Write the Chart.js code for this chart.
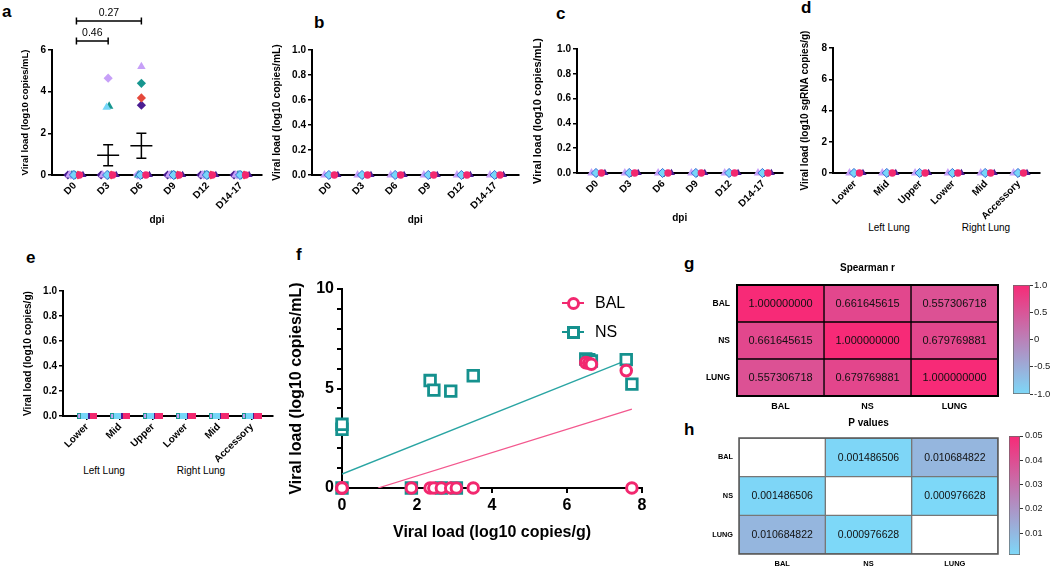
<!DOCTYPE html>
<html>
<head>
<meta charset="utf-8">
<title>Viral load panels</title>
<script src="https://cdn.jsdelivr.net/npm/chart.js@4.4.1/dist/chart.umd.min.js"></script>
<style>
  html, body { margin: 0; padding: 0; background: #fff; }
  body { position: relative; width: 1050px; height: 568px; overflow: hidden; font-family: "Liberation Sans", Arial, sans-serif; color: #000; }
  .box { position: absolute; }
  .tag { position: absolute; font-size: 17px; line-height: 17px; font-weight: bold; }
  .grp { position: absolute; font-size: 10px; line-height: 12px; white-space: nowrap; transform: translateX(-50%); }
  .leg { position: absolute; font-size: 16px; line-height: 18px; white-space: nowrap; }
</style>
</head>
<body>
<div class="tag" style="left:2px;top:2.6px">a</div>
<div class="tag" style="left:314px;top:13.6px">b</div>
<div class="tag" style="left:556px;top:4.6px">c</div>
<div class="tag" style="left:801px;top:-1.4px">d</div>
<div class="tag" style="left:26px;top:248.6px">e</div>
<div class="tag" style="left:296px;top:245.6px">f</div>
<div class="tag" style="left:684px;top:254.6px">g</div>
<div class="tag" style="left:684px;top:420.6px">h</div>
<div class="grp" id="dLeft" style="left:889px;top:222px"></div>
<div class="grp" id="dRight" style="left:986px;top:222px"></div>
<div class="grp" id="eLeft" style="left:104px;top:465px"></div>
<div class="grp" id="eRight" style="left:201px;top:465px"></div>
<script>
// ---------- data ----------
const days = ['D0', 'D3', 'D6', 'D9', 'D12', 'D14-17'];
const lobes = ['Lower', 'Mid', 'Upper', 'Lower', 'Mid', 'Accessory'];
const lungGroups = ['Left Lung', 'Right Lung'];

// a: one array per animal, log10 copies/mL by day
const aPink    = [0, 0, 0, 0, 0, 0];
const aCyanDia = [0, 0, 0, 0, 0, 0];
const aLavTri  = [0, 0, 5.2, 0, 0, 0];
const aPurTri  = [0, 0, 0, 0, 0, 0];
const aTealTri = [0, 3.3, 0, 0, 0, 0];
const aCyanTri = [0, 3.25, 0, 0, 0, 0];
const aLavDia  = [0, 4.65, 0, 0, 0, 0];
const aTealDia = [0, 0, 4.4, 0, 0, 0];
const aRedDia  = [0, 0, 3.7, 0, 0, 0];
const aPurDia  = [0, 0, 3.35, 0, 0, 0];
const aMean = [0, 0.95, 1.4, 0, 0, 0];
const aSem  = [0, 0.5, 0.6, 0, 0, 0];
const aCmpFrom = [0, 0];
const aCmpTo   = [1, 2];
const aCmpP    = ['0.46', '0.27'];
const aYTicks  = [0, 2, 4, 6];

// b, c: all animals below detection
const bPink = [0, 0, 0, 0, 0, 0];
const bCyan = [0, 0, 0, 0, 0, 0];
const bLav  = [0, 0, 0, 0, 0, 0];
const bPur  = [0, 0, 0, 0, 0, 0];
const cPink = [0, 0, 0, 0, 0, 0];
const cCyan = [0, 0, 0, 0, 0, 0];
const cLav  = [0, 0, 0, 0, 0, 0];
const cPur  = [0, 0, 0, 0, 0, 0];
const unitTicks = [0, 0.2, 0.4, 0.6, 0.8, 1.0];

// d: sgRNA per lobe
const dPink = [0, 0, 0, 0, 0, 0];
const dCyan = [0, 0, 0, 0, 0, 0];
const dLav  = [0, 0, 0, 0, 0, 0];
const dPur  = [0, 0, 0, 0, 0, 0];
const dYTicks = [0, 2, 4, 6, 8];

// e: bars per lobe
const eLav  = [0, 0, 0, 0, 0, 0];
const eCyan = [0, 0, 0, 0, 0, 0];
const ePur  = [0, 0, 0, 0, 0, 0];
const ePink = [0, 0, 0, 0, 0, 0];

// f: lung load vs BAL / NS load, one entry per animal
const fSeries  = ['BAL', 'NS'];
const lungLoad = [0, 0, 0, 1.85, 2.35, 2.45, 2.65, 2.9, 3.05, 3.5, 6.5, 6.58, 6.65, 7.58, 7.73];
const balLoad  = [0, 0, 0, 0, 0, 0, 0, 0, 0, 0, 6.3, 6.27, 6.22, 5.9, 0];
const nsLoad   = [0, 2.95, 3.2, 0, 5.4, 4.92, 0, 4.87, 0, 5.64, 6.48, 6.45, 6.38, 6.45, 5.22];
const balFit   = [0.586, -0.563];   // slope, intercept
const balFitX  = [0.96, 7.73];
const nsFit    = [0.753, 0.70];
const nsFitX   = [0, 7.6];
const fXTicks  = [0, 2, 4, 6, 8];
const fYTicks  = [0, 1, 2, 3, 4, 5, 6, 7, 8, 9, 10];
const fYShown  = [0, 5, 10];

// g, h: correlation matrices
const corrLabels = ['BAL', 'NS', 'LUNG'];
const spearmanR = [
  [1, 0.661645615, 0.557306718],
  [0.661645615, 1, 0.679769881],
  [0.557306718, 0.679769881, 1]
];
const pValues = [
  [null, 0.001486506, 0.010684822],
  [0.001486506, null, 0.000976628],
  [0.010684822, 0.000976628, null]
];
const rBarTicks  = [-1, -0.5, 0, 0.5, 1];
const rBarLabels = ['-1.0', '-0.5', '0', '0.5', '1.0'];
const pBarTicks  = [0.01, 0.02, 0.03, 0.04, 0.05];
const pBarLabels = ['0.01', '0.02', '0.03', '0.04', '0.05'];
const pBarMin = 0.000976628;

// ---------- setup ----------
const FONT = "'Liberation Sans', Arial, sans-serif";
Chart.defaults.font.family = FONT;
Chart.defaults.color = '#000';
Chart.defaults.animation = false;
Chart.defaults.plugins.legend.display = false;
Chart.defaults.plugins.tooltip.enabled = false;

const PINK = '#f2286f', CYAN = '#76d6f8', LAV = '#c7a0f8', PUR = '#4b1d92', TEAL = '#16968f', RED = '#e5493b';
const LOW = [125, 216, 248], HIGH = [247, 42, 119];

function mix(t) {
  t = Math.max(0, Math.min(1, t));
  const c = LOW.map((v, i) => Math.round(v + (HIGH[i] - v) * t));
  return `rgb(${c[0]},${c[1]},${c[2]})`;
}

function rectImg(w, h, fill, stroke) {
  const c = document.createElement('canvas');
  c.width = w; c.height = h;
  const g = c.getContext('2d');
  g.fillStyle = fill;
  g.fillRect(0, 0, w, h);
  if (stroke) { g.strokeStyle = stroke; g.lineWidth = 1; g.strokeRect(0.5, 0.5, w - 1, h - 1); }
  return c;
}

// marker looks; off = sideways nudge (px) for points sitting on zero
const MK = {
  pink:    { shape: 'circle',   r: 3.7, fill: PINK, off: 4.5 },
  cyanDia: { shape: 'rectRot',  r: 4.6, fill: CYAN, line: '#3a6bd6', bw: 1, off: -1 },
  lavTri:  { shape: 'triangle', r: 4.9, fill: LAV, off: -5.5 },
  purTri:  { shape: 'triangle', r: 4.2, fill: PUR, off: 8 },
  tealTri: { shape: 'triangle', r: 4.9, fill: TEAL, off: -3, hi: 1 },
  cyanTri: { shape: 'triangle', r: 4.9, fill: CYAN, off: -2, hi: -1.5 },
  lavDia:  { shape: 'rectRot',  r: 4.6, fill: LAV, off: -4 },
  tealDia: { shape: 'rectRot',  r: 4.6, fill: TEAL, off: 0 },
  redDia:  { shape: 'rectRot',  r: 4.6, fill: RED, off: 3 },
  purDia:  { shape: 'rectRot',  r: 4.6, fill: PUR, off: -7 },
  eLav:    { img: rectImg(4, 6, LAV, '#1c9a93'), r: 4, off: -8 },
  eCyan:   { img: rectImg(7, 6, CYAN), r: 4, off: -2.5 },
  ePur:    { img: rectImg(2, 6, PUR), r: 4, off: 1.5 },
  ePink:   { img: rectImg(8, 6, PINK), r: 4, off: 6 }
};

function addBox(l, t, w, h) {
  const d = document.createElement('div');
  d.className = 'box';
  d.style.cssText = `left:${l}px;top:${t}px;width:${w}px;height:${h}px`;
  const c = document.createElement('canvas');
  d.appendChild(c);
  document.body.appendChild(d);
  return c;
}

const marks = len => ({ display: true, drawOnChartArea: false, drawTicks: true, tickLength: len, color: '#000', lineWidth: 1.5 });

function dotPanel(o) {
  const [bl, bt, bw, bh] = o.box;
  const [al, at, ar, ab] = o.area;
  const datasets = o.series.map(([vals, key]) => {
    const m = MK[key];
    return {
      data: vals.map((v, i) => ({ x: i + (v === 0 ? m.off : (m.hi || 0)) / o.step, y: v })),
      pointStyle: m.img || m.shape,
      pointRadius: m.r,
      pointBackgroundColor: m.fill || '#000',
      pointBorderColor: m.line || m.fill || '#000',
      pointBorderWidth: m.bw || 0,
      clip: false
    };
  });
  const ylh = o.yTitleSize * 1.2;
  return new Chart(addBox(bl, bt, bw, bh), {
    type: 'scatter',
    data: { datasets },
    options: {
      responsive: true,
      maintainAspectRatio: false,
      layout: { padding: { left: 0, top: at - bt, right: bl + bw - ar, bottom: 0 } },
      scales: {
        x: {
          type: 'linear',
          min: -o.pad[0],
          max: o.cats.length - 1 + o.pad[1],
          afterBuildTicks: s => { s.ticks = o.cats.map((_, i) => ({ value: i })); },
          afterFit: s => { s.height = bt + bh - ab; },
          ticks: { autoSkip: false, minRotation: 45, maxRotation: 45, padding: 1, color: '#000',
                   font: { size: 10, weight: 'bold' }, callback: (v, i) => o.cats[i] },
          grid: marks(4),
          border: { display: true, color: '#000', width: 2 },
          title: o.xTitle
            ? { display: true, text: o.xTitle, color: '#000', font: { size: 10, weight: 'bold' },
                padding: { top: 0, bottom: bt + bh - o.xTitleY - 6 } }
            : { display: false }
        },
        y: {
          min: 0,
          max: o.yMax,
          afterBuildTicks: s => { s.ticks = o.yTicks.map(v => ({ value: v })); },
          afterFit: s => { s.width = al - bl; },
          ticks: { autoSkip: false, padding: 2, color: '#000', font: { size: 10, weight: 'bold' },
                   callback: (v, i) => o.yFmt(o.yTicks[i]) },
          grid: marks(4),
          border: { display: true, color: '#000', width: 2 },
          title: { display: true, text: o.yTitle, color: '#000', font: { size: o.yTitleSize, weight: 'bold' },
                   padding: { top: o.yTitleX - bl - ylh / 2, bottom: 0 } }
        }
      }
    },
    plugins: o.plugins || []
  });
}

// mean +/- SEM and comparison brackets for panel a
const aExtras = {
  id: 'aExtras',
  beforeDatasetsDraw(chart) {
    const { ctx, scales: { x, y } } = chart;
    ctx.save();
    ctx.strokeStyle = '#000';
    ctx.lineWidth = 1.5;
    aMean.forEach((m, i) => {
      if (!m) return;
      const px = x.getPixelForValue(i);
      const pm = y.getPixelForValue(m);
      const hi = y.getPixelForValue(m + aSem[i]);
      const lo = y.getPixelForValue(m - aSem[i]);
      ctx.beginPath();
      ctx.moveTo(px - 11, pm); ctx.lineTo(px + 11, pm);
      ctx.moveTo(px, hi); ctx.lineTo(px, lo);
      ctx.moveTo(px - 5, hi); ctx.lineTo(px + 5, hi);
      ctx.moveTo(px - 5, lo); ctx.lineTo(px + 5, lo);
      ctx.stroke();
    });
    ctx.restore();
  },
  afterDraw(chart) {
    const { ctx, scales: { x }, chartArea } = chart;
    ctx.save();
    ctx.strokeStyle = '#000';
    ctx.fillStyle = '#000';
    ctx.lineWidth = 1.5;
    ctx.font = `10.5px ${FONT}`;
    ctx.textAlign = 'center';
    ctx.textBaseline = 'alphabetic';
    aCmpFrom.forEach((f, k) => {
      const x1 = x.getPixelForValue(f) + 1.5;
      const x2 = x.getPixelForValue(aCmpTo[k]);
      const yy = chartArea.top - 9 - 20 * k;
      ctx.beginPath();
      ctx.moveTo(x1, yy); ctx.lineTo(x2, yy);
      ctx.moveTo(x1, yy - 3.5); ctx.lineTo(x1, yy + 3.5);
      ctx.moveTo(x2, yy - 3.5); ctx.lineTo(x2, yy + 3.5);
      ctx.stroke();
      ctx.fillText(aCmpP[k], (x1 + x2) / 2, yy - 5);
    });
    ctx.restore();
  }
};

const oneDec = v => v.toFixed(1);
const plain = v => String(v);
const nsTitle = 'Viral load (log10 copies/mL)';

dotPanel({
  box: [0, 0, 270, 240], area: [52, 50, 262, 175], step: 33.1, pad: [0.69, 0.63],
  cats: days, yMax: 6, yTicks: aYTicks, yFmt: plain,
  yTitle: nsTitle, yTitleSize: 9.5, yTitleX: 25, xTitle: 'dpi', xTitleY: 220,
  series: [[aPink, 'pink'], [aCyanDia, 'cyanDia'], [aLavTri, 'lavTri'], [aPurTri, 'purTri'],
           [aCyanTri, 'cyanTri'], [aTealTri, 'tealTri'], [aLavDia, 'lavDia'], [aTealDia, 'tealDia'],
           [aRedDia, 'redDia'], [aPurDia, 'purDia']],
  plugins: [aExtras]
});

dotPanel({
  box: [262, 0, 262, 240], area: [312, 50, 520, 175], step: 33.4, pad: [0.54, 0.69],
  cats: days, yMax: 1, yTicks: unitTicks, yFmt: oneDec,
  yTitle: nsTitle, yTitleSize: 10.3, yTitleX: 277, xTitle: 'dpi', xTitleY: 220,
  series: [[bPink, 'pink'], [bCyan, 'cyanDia'], [bLav, 'lavTri'], [bPur, 'purTri']]
});

dotPanel({
  box: [530, 0, 258, 240], area: [577, 49, 784, 173], step: 33.6, pad: [0.6, 0.57],
  cats: days, yMax: 1, yTicks: unitTicks, yFmt: oneDec,
  yTitle: nsTitle, yTitleSize: 11, yTitleX: 538, xTitle: 'dpi', xTitleY: 218,
  series: [[cPink, 'pink'], [cCyan, 'cyanDia'], [cLav, 'lavTri'], [cPur, 'purTri']]
});

dotPanel({
  box: [790, 0, 258, 240], area: [833, 48, 1040, 173], step: 32.8, pad: [0.67, 0.64],
  cats: lobes, yMax: 8, yTicks: dYTicks, yFmt: plain,
  yTitle: 'Viral load (log10 sgRNA copies/g)', yTitleSize: 10, yTitleX: 805,
  series: [[dPink, 'pink'], [dCyan, 'cyanDia'], [dLav, 'lavTri'], [dPur, 'purTri']]
});

dotPanel({
  box: [0, 240, 280, 245], area: [63, 291, 273, 416], step: 33, pad: [0.73, 0.64],
  cats: lobes, yMax: 1, yTicks: unitTicks, yFmt: oneDec,
  yTitle: 'Viral load (log10 copies/g)', yTitleSize: 10.1, yTitleX: 28,
  series: [[eLav, 'eLav'], [eCyan, 'eCyan'], [ePur, 'ePur'], [ePink, 'ePink']]
});

document.getElementById('dLeft').textContent = lungGroups[0];
document.getElementById('dRight').textContent = lungGroups[1];
document.getElementById('eLeft').textContent = lungGroups[0];
document.getElementById('eRight').textContent = lungGroups[1];

// ---------- f ----------
(function () {
  const bl = 280, bt = 240, bw = 420, bh = 328;
  const al = 342, at = 289, ar = 642, ab = 488;
  const fitLine = (fit, xr) => xr.map(x => ({ x, y: fit[0] * x + fit[1] }));
  new Chart(addBox(bl, bt, bw, bh), {
    type: 'scatter',
    data: {
      datasets: [
        { label: fSeries[0], data: lungLoad.map((x, i) => ({ x, y: balLoad[i] })),
          pointStyle: 'circle', pointRadius: 5.3, pointBorderWidth: 3,
          pointBackgroundColor: '#fff', pointBorderColor: PINK, clip: false },
        { label: fSeries[1], data: lungLoad.map((x, i) => ({ x, y: nsLoad[i] })),
          pointStyle: 'rect', pointRadius: 7.5, pointBorderWidth: 2.8,
          pointBackgroundColor: '#fff', pointBorderColor: '#15918e', clip: false },
        { type: 'line', data: fitLine(balFit, balFitX), borderColor: '#f3588e', borderWidth: 1.3, pointRadius: 0 },
        { type: 'line', data: fitLine(nsFit, nsFitX), borderColor: '#2aa5a3', borderWidth: 1.3, pointRadius: 0 }
      ]
    },
    options: {
      responsive: true,
      maintainAspectRatio: false,
      layout: { padding: { left: 0, top: at - bt, right: bl + bw - ar, bottom: 0 } },
      scales: {
        x: {
          type: 'linear', min: 0, max: 8,
          afterBuildTicks: s => { s.ticks = fXTicks.map(v => ({ value: v })); },
          afterFit: s => { s.height = bt + bh - ab; },
          ticks: { autoSkip: false, padding: 3, color: '#000', font: { size: 16, weight: 'bold' } },
          grid: { display: true, drawOnChartArea: false, tickLength: 5, color: '#000', lineWidth: 2 },
          border: { display: true, color: '#000', width: 2 },
          title: { display: true, text: 'Viral load (log10 copies/g)', color: '#000',
                   font: { size: 16, weight: 'bold' }, padding: { top: 0, bottom: bt + bh - 533 - 9.6 } }
        },
        y: {
          min: 0, max: 10,
          afterBuildTicks: s => { s.ticks = fYTicks.map(v => ({ value: v })); },
          afterFit: s => { s.width = al - bl; },
          ticks: { autoSkip: false, padding: 3, color: '#000', font: { size: 16, weight: 'bold' },
                   callback: (v, i) => fYShown.includes(fYTicks[i]) ? String(fYTicks[i]) : '' },
          grid: { display: true, drawOnChartArea: false, tickLength: 5, color: '#000', lineWidth: 2 },
          border: { display: true, color: '#000', width: 2 },
          title: { display: true, text: 'Viral load (log10 copies/mL)', color: '#000',
                   font: { size: 16, weight: 'bold' }, padding: { top: 297 - bl - 9.6, bottom: 0 } }
        }
      }
    }
  });

  // legend, GraphPad style: marker on a short line
  const items = [
    { name: fSeries[0], cy: 303, color: PINK, round: true },
    { name: fSeries[1], cy: 332, color: '#15918e', round: false }
  ];
  items.forEach(it => {
    const ln = document.createElement('div');
    ln.style.cssText = `position:absolute;left:562px;top:${it.cy - 1}px;width:22px;height:2px;background:${it.color}`;
    const mk = document.createElement('div');
    mk.style.cssText = `position:absolute;left:566.5px;top:${it.cy - 6.5}px;width:7px;height:7px;` +
      `border:3px solid ${it.color};background:#fff;border-radius:${it.round ? '50%' : '0'}`;
    const tx = document.createElement('div');
    tx.className = 'leg';
    tx.textContent = it.name;
    tx.style.left = '595px';
    tx.style.top = (it.cy - 9) + 'px';
    document.body.append(ln, mk, tx);
  });
})();

// ---------- g, h heatmaps ----------
const cellText = {
  id: 'cellText',
  afterDatasetsDraw(chart, args, opts) {
    const { ctx } = chart;
    ctx.save();
    ctx.font = opts.font;
    ctx.fillStyle = '#111';
    ctx.textAlign = 'center';
    ctx.textBaseline = 'middle';
    chart.data.datasets.forEach((ds, j) => {
      chart.getDatasetMeta(j).data.forEach((bar, i) => {
        const v = ds.vals[i];
        if (v == null) return;
        ctx.fillText(v.toFixed(9), (bar.x + bar.base) / 2, bar.y + 0.5);
      });
    });
    const a = chart.chartArea;
    ctx.strokeStyle = opts.frame;
    ctx.lineWidth = opts.frameW;
    ctx.strokeRect(a.left, a.top, a.right - a.left, a.bottom - a.top);
    ctx.restore();
  }
};

function heatPanel(o) {
  const [bl, bt, bw, bh] = o.box;
  const [al, at, ar, ab] = o.area;
  new Chart(addBox(bl, bt, bw, bh), {
    type: 'bar',
    data: {
      labels: corrLabels,
      datasets: corrLabels.map((_, j) => ({
        data: corrLabels.map(() => 1),
        vals: o.matrix.map(row => row[j]),
        backgroundColor: o.matrix.map(row => row[j] == null ? '#fff' : o.color(row[j])),
        borderColor: o.grid,
        borderWidth: o.gridW,
        borderSkipped: false,
        barPercentage: 1,
        categoryPercentage: 1
      }))
    },
    options: {
      indexAxis: 'y',
      responsive: true,
      maintainAspectRatio: false,
      layout: { padding: { left: 0, top: 0, right: bl + bw - ar, bottom: 0 } },
      plugins: {
        title: { display: true, fullSize: false, text: o.title, color: '#000', font: { size: 10, weight: 'bold' },
                 padding: { top: o.titleY - bt - 6, bottom: at - o.titleY - 6 } },
        cellText: { font: o.cellFont, frame: o.frame, frameW: o.frameW }
      },
      scales: {
        x: {
          type: 'linear', stacked: true, min: 0, max: 3,
          afterBuildTicks: s => { s.ticks = corrLabels.map((_, i) => ({ value: i + 0.5 })); },
          afterFit: s => { s.height = bt + bh - ab; },
          ticks: { padding: o.colPad, color: '#000', font: { size: o.colSize, weight: 'bold' },
                   callback: (v, i) => corrLabels[i] },
          grid: { display: false, drawTicks: false },
          border: { display: false }
        },
        y: {
          stacked: true,
          afterFit: s => { s.width = al - bl; },
          ticks: { padding: o.rowPad, color: '#000', font: { size: o.rowSize, weight: 'bold' } },
          grid: { display: false, drawTicks: false },
          border: { display: false }
        }
      }
    },
    plugins: [cellText]
  });
}

function colorBar(o) {
  const [bl, bt, bw, bh] = o.box;
  const [al, at, ar, ab] = o.area;
  new Chart(addBox(bl, bt, bw, bh), {
    type: 'bar',
    data: {
      labels: [''],
      datasets: [{
        data: [[o.min, o.max]],
        backgroundColor: ctx => {
          const a = ctx.chart.chartArea;
          if (!a) return null;
          const g = ctx.chart.ctx.createLinearGradient(0, a.bottom, 0, a.top);
          g.addColorStop(0, mix(0));
          g.addColorStop(0.5, mix(0.5));
          g.addColorStop(1, mix(1));
          return g;
        },
        borderColor: '#6a6a6a',
        borderWidth: 1,
        borderSkipped: false,
        barPercentage: 1,
        categoryPercentage: 1
      }]
    },
    options: {
      responsive: true,
      maintainAspectRatio: false,
      layout: { padding: { left: al - bl, top: at - bt, right: 0, bottom: bt + bh - ab } },
      scales: {
        x: { display: false },
        y: {
          position: 'right', min: o.min, max: o.max,
          afterBuildTicks: s => { s.ticks = o.ticks.map(v => ({ value: v })); },
          afterFit: s => { s.width = bl + bw - ar; },
          ticks: { autoSkip: false, padding: o.tickPad, color: '#222', font: { size: o.fontSize },
                   callback: (v, i) => o.labels[i] },
          grid: { display: true, drawOnChartArea: false, tickLength: 3, color: '#333', lineWidth: 1 },
          border: { display: false }
        }
      }
    }
  });
}

heatPanel({
  box: [700, 255, 300, 162], area: [737, 285, 998, 396], titleY: 268,
  title: 'Spearman r', matrix: spearmanR, color: v => mix((v + 1) / 2),
  grid: '#000', gridW: 1, frame: '#000', frameW: 2, cellFont: `11px ${FONT}`,
  colSize: 9, colPad: 5.6, rowSize: 8.5, rowPad: 7
});
colorBar({
  box: [1005, 275, 45, 130], area: [1013, 285, 1030, 394],
  min: -1, max: 1, ticks: rBarTicks, labels: rBarLabels, fontSize: 9.5, tickPad: 1
});

heatPanel({
  box: [700, 405, 300, 163], area: [739, 438, 998, 554], titleY: 423,
  title: 'P values', matrix: pValues, color: v => mix((v - pBarMin) / (0.05 - pBarMin)),
  grid: '#777', gridW: 1, frame: '#555', frameW: 1.5, cellFont: `10.5px ${FONT}`,
  colSize: 7.5, colPad: 5.5, rowSize: 7.3, rowPad: 6
});
colorBar({
  box: [1000, 426, 50, 140], area: [1009, 436, 1020, 555],
  min: pBarMin, max: 0.05, ticks: pBarTicks, labels: pBarLabels, fontSize: 9, tickPad: 2
});
</script>
</body>
</html>
